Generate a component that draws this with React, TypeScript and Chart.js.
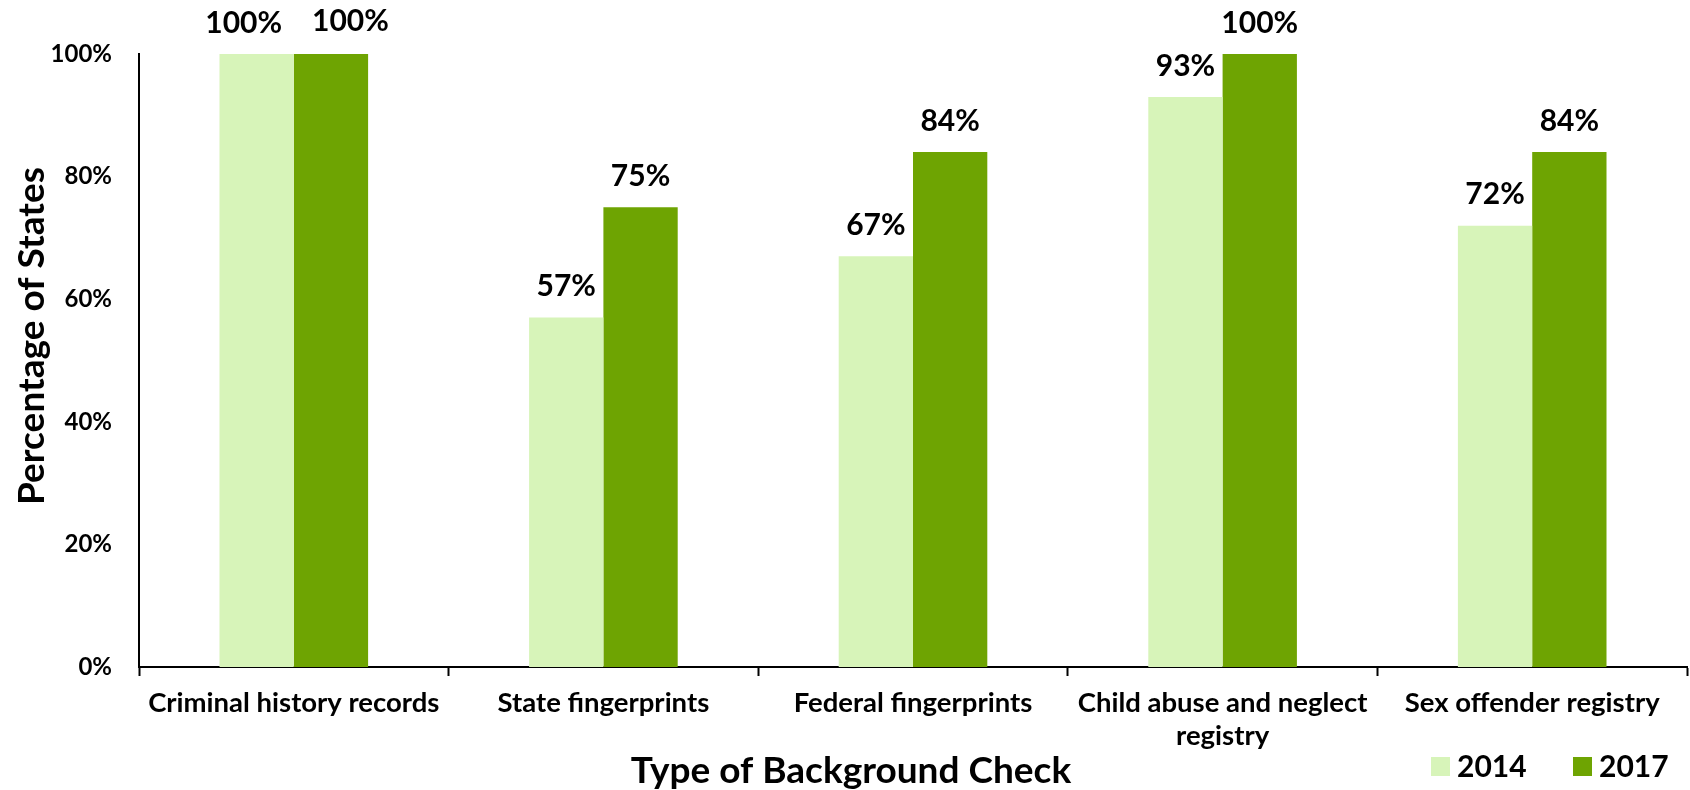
import React, { useEffect, useRef } from "react";
import { Chart, registerables } from "chart.js";

Chart.register(...registerables);

const categories: (string | string[])[] = [
  "Criminal history records",
  "State fingerprints",
  "Federal fingerprints",
  ["Child abuse and neglect", "registry"],
  "Sex offender registry",
];
const seriesNames = ["2014", "2017"];
const values2014 = [100, 57, 67, 93, 72];
const values2017 = [100, 75, 84, 100, 84];
const yTicks = [0, 20, 40, 60, 80, 100];

const LIGHT = "#d7f4b9";
const DARK = "#6ea402";
const FONT = "Lato, 'Open Sans', sans-serif";

// Value labels above each bar; labels in the same group that would collide
// are pushed apart so they keep a readable gap.
const overlay = {
  id: "overlay",
  afterDatasetsDraw(chart: any) {
    const ctx = chart.ctx;
    ctx.save();
    ctx.fillStyle = "#000";
    ctx.textAlign = "center";
    ctx.textBaseline = "middle";
    ctx.font = `bold 30px ${FONT}`;
    const metaA = chart.getDatasetMeta(0);
    const metaB = chart.getDatasetMeta(1);
    const dsA = chart.data.datasets[0];
    const dsB = chart.data.datasets[1];
    metaA.data.forEach((barA: any, j: number) => {
      const barB = metaB.data[j];
      const tA = `${dsA.data[j]}%`;
      const tB = `${dsB.data[j]}%`;
      let xA = barA.x;
      let xB = barB.x;
      const yA = barA.y - 31;
      let yB = barB.y - 31;
      const wA = ctx.measureText(tA).width;
      const wB = ctx.measureText(tB).width;
      const gap = xB - wB / 2 - (xA + wA / 2);
      if (Math.abs(yA - yB) < 30 && gap < 20) {
        const push = (30 - gap) / 2;
        xA -= push * 0.8;
        xB += push * 1.2;
        yB -= 2;
      }
      ctx.fillText(tA, xA, yA);
      ctx.fillText(tB, xB, yB);
    });
    ctx.restore();
  },
  afterDraw(chart: any) {
    const ctx = chart.ctx;
    ctx.save();
    ctx.fillStyle = "#000";
    ctx.textAlign = "center";
    ctx.textBaseline = "middle";
    ctx.font = `bold 37px ${FONT}`;
    ctx.fillText("Type of Background Check", 851, 771);
    ctx.save();
    ctx.translate(32, 336);
    ctx.rotate(-Math.PI / 2);
    ctx.font = `bold 37px ${FONT}`;
    ctx.fillText("Percentage of States", 0, 0);
    ctx.restore();
    // legend
    const items = [
      { x: 1431, ds: chart.data.datasets[0] },
      { x: 1573, ds: chart.data.datasets[1] },
    ];
    ctx.font = `bold 30px ${FONT}`;
    ctx.textAlign = "left";
    items.forEach((it) => {
      ctx.fillStyle = it.ds.backgroundColor;
      ctx.fillRect(it.x, 757, 19, 19);
      ctx.fillStyle = "#000";
      ctx.fillText(it.ds.label, it.x + 26, 767);
    });
    ctx.restore();
  },
};

export default function App() {
  const ref = useRef<HTMLCanvasElement | null>(null);
  useEffect(() => {
    if (!ref.current) return;
    const chart = new Chart(ref.current, {
      type: "bar",
      data: {
        labels: categories,
        datasets: [
          { label: seriesNames[0], data: values2014, backgroundColor: LIGHT },
          { label: seriesNames[1], data: values2017, backgroundColor: DARK },
        ],
      },
      options: {
        animation: false,
        responsive: false,
        maintainAspectRatio: false,
        layout: { padding: { top: 54, right: 3, left: 0, bottom: 0 } },
        datasets: { bar: { categoryPercentage: 0.48, barPercentage: 1.0 } },
        plugins: { legend: { display: false }, tooltip: { enabled: false } },
        scales: {
          x: {
            grid: {
              display: true,
              drawOnChartArea: false,
              drawTicks: true,
              tickLength: 9,
              tickWidth: 2,
              tickColor: "#000",
              offset: true,
            },
            border: { display: true, color: "#000", width: 2 },
            ticks: {
              color: "#000",
              font: { family: FONT, weight: "bold", size: 27.5, lineHeight: 1.2 },
              padding: 11,
              maxRotation: 0,
              autoSkip: false,
            },
            afterFit(scale: any) {
              scale.height = 123;
            },
          },
          y: {
            min: 0,
            max: 100,
            afterBuildTicks(scale: any) {
              scale.ticks = yTicks.map((v) => ({ value: v }));
            },
            grid: { display: false, drawTicks: false },
            border: { display: true, color: "#000", width: 2 },
            ticks: {
              color: "#000",
              font: { family: FONT, weight: "bold", size: 24 },
              padding: 27,
              callback: (v: any) => `${v}%`,
            },
            afterFit(scale: any) {
              scale.width = 139;
            },
          },
        },
      },
      plugins: [overlay],
    });
    return () => chart.destroy();
  }, []);
  return (
    <div style={{ position: "fixed", left: 0, top: 0, width: 1690, height: 790, background: "#fff" }}>
      <canvas ref={ref} width={1690} height={790} />
    </div>
  );
}
